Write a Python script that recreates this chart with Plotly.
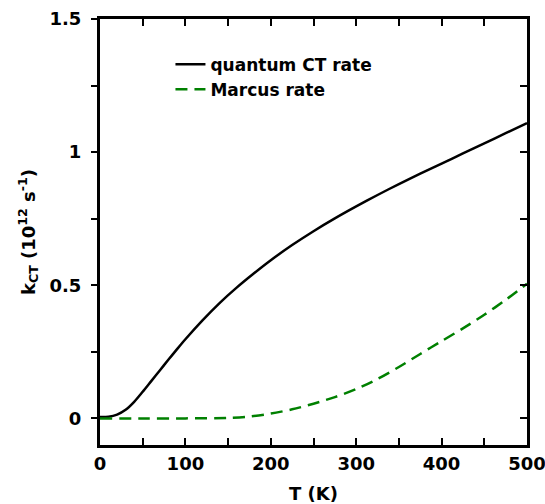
import plotly.graph_objects as go

# temperature (K) and rates (10^12 s^-1)
T_quantum = [0, 10, 20, 30, 40, 50, 60, 70, 80, 90, 100, 120, 140, 160, 180, 200,
             225, 250, 275, 300, 325, 350, 375, 400, 425, 450, 475, 500]
k_quantum = [0.005, 0.006, 0.014, 0.032, 0.062, 0.1, 0.14, 0.18, 0.22, 0.259, 0.297,
             0.368, 0.433, 0.491, 0.544, 0.594, 0.651, 0.703, 0.751, 0.796, 0.839, 0.88,
             0.919, 0.957, 0.995, 1.033, 1.071, 1.109]

T_marcus = [0, 50, 100, 150, 175, 200, 225, 250, 275, 300, 325, 350, 375, 400, 425, 450, 475, 500]
k_marcus = [0, 0, 0, 0.002, 0.007, 0.018, 0.034, 0.055, 0.08, 0.11, 0.148, 0.193, 0.242,
            0.29, 0.338, 0.389, 0.445, 0.506]

x_ticks = [0, 100, 200, 300, 400, 500]
y_ticks = [0, 0.5, 1, 1.5]
y_ticklabels = ["0", "0.5", "1", "1.5"]

FONT = "DejaVu Sans"
bold = dict(family=FONT, size=18, color="black", weight="bold")
tick_common = dict(tickwidth=2, tickcolor="black", showgrid=False, zeroline=False, automargin=False)

fig = go.Figure()
fig.add_trace(go.Scatter(x=T_quantum, y=k_quantum, mode="lines", name="quantum CT rate",
                         line=dict(color="black", width=2.5, shape="spline", smoothing=0.8)))
fig.add_trace(go.Scatter(x=T_marcus, y=k_marcus, mode="lines", name="Marcus rate",
                         line=dict(color="#008000", width=2.5, dash="12px,7px",
                                   shape="spline", smoothing=0.8)))
# invisible trace to carry the top / right axes
fig.add_trace(go.Scatter(x=T_marcus, y=k_marcus, mode="lines", xaxis="x2", yaxis="y2",
                         showlegend=False, hoverinfo="skip", line=dict(color="rgba(0,0,0,0)")))

fig.update_layout(
    width=545, height=504,
    margin=dict(l=100, r=18, t=19, b=59),
    paper_bgcolor="white", plot_bgcolor="white",
    font=dict(family=FONT, color="black"),
    showlegend=True,
    legend=dict(x=0.165, y=0.935, xanchor="left", yanchor="top",
                bgcolor="rgba(0,0,0,0)",
                font=dict(family=FONT, size=17, color="black", weight="bold"),
                tracegroupgap=0),
    xaxis=dict(range=[0, 500], tickvals=x_ticks, ticks="inside", ticklen=7,
               showline=True, linecolor="black", linewidth=3, mirror=True,
               tickfont=bold, ticklabeloverflow="allow",
               minor=dict(dtick=50, ticks="inside", ticklen=7, tickwidth=2,
                          tickcolor="black", showgrid=False),
               title=dict(text="T (K)", font=bold, standoff=16), **tick_common),
    xaxis2=dict(range=[0, 500], overlaying="x", side="top", tickvals=x_ticks,
                showticklabels=False, ticks="inside", ticklen=7, showline=False,
                minor=dict(dtick=50, ticks="inside", ticklen=7, tickwidth=2,
                           tickcolor="black", showgrid=False), **tick_common),
    yaxis=dict(range=[-0.1, 1.5], tickvals=y_ticks, ticktext=y_ticklabels, ticks="outside",
               ticklen=6, showline=True, linecolor="black", linewidth=3, mirror=True,
               tickfont=bold, ticklabelstandoff=6, ticklabeloverflow="allow",
               minor=dict(tickvals=[0.25, 0.75, 1.25], ticks="outside", ticklen=6, tickwidth=2,
                          tickcolor="black", showgrid=False),
               title=dict(text="k<sub>CT</sub> (10<sup>12</sup> s<sup>-1</sup>)", font=bold,
                          standoff=10), **tick_common),
    yaxis2=dict(range=[-0.1, 1.5], overlaying="y", side="right", tickvals=y_ticks,
                showticklabels=False, ticks="inside", ticklen=7, showline=False,
                minor=dict(tickvals=[0.25, 0.75, 1.25], ticks="inside", ticklen=7, tickwidth=2,
                           tickcolor="black", showgrid=False), **tick_common),
)

fig.write_html("out.html", config={"displayModeBar": False},
               post_script="document.body.style.margin='0';document.body.style.padding='0';")
